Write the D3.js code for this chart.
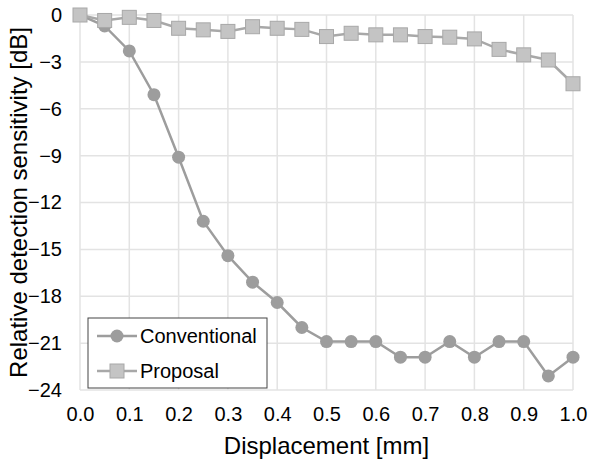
<!DOCTYPE html>
<html>
<head>
<meta charset="utf-8">
<script src="https://cdn.jsdelivr.net/npm/d3@7"></script>
<style>
  body { margin: 0; background: #fff; }
  text { font-family: "Liberation Sans", Arial, sans-serif; fill: #000; }
</style>
</head>
<body>
<div id="chart"></div>
<script>
const displacement = [0.0, 0.05, 0.1, 0.15, 0.2, 0.25, 0.3, 0.35, 0.4, 0.45, 0.5,
                      0.55, 0.6, 0.65, 0.7, 0.75, 0.8, 0.85, 0.9, 0.95, 1.0];
const conventional = [0, -0.7, -2.3, -5.1, -9.1, -13.2, -15.4, -17.1, -18.4, -20.0, -20.9,
                      -20.9, -20.9, -21.9, -21.9, -20.9, -21.9, -20.9, -20.9, -23.1, -21.9];
const proposal = [0, -0.35, -0.15, -0.35, -0.85, -0.95, -1.05, -0.75, -0.85, -0.92, -1.38,
                  -1.17, -1.27, -1.27, -1.38, -1.42, -1.53, -2.2, -2.55, -2.88, -4.4];
const xTicks = [0, 0.1, 0.2, 0.3, 0.4, 0.5, 0.6, 0.7, 0.8, 0.9, 1.0];
const yTicks = [0, -3, -6, -9, -12, -15, -18, -21, -24];

const width = 590;
const height = 461;
const marginTop = 15;
const marginRight = 17;
const marginBottom = 71;
const marginLeft = 80;

const x = d3.scaleLinear([0, 1], [marginLeft, width - marginRight]);
const y = d3.scaleLinear([-24, 0], [height - marginBottom, marginTop]);

const svg = d3.select("#chart").append("svg")
    .attr("width", width)
    .attr("height", height)
    .attr("viewBox", [0, 0, width, height]);

// gridlines
svg.append("g")
    .attr("stroke", "#e3e3e3")
    .attr("stroke-width", 1.5)
    .call(g => g.selectAll("line.v").data(xTicks).join("line")
        .attr("x1", d => x(d)).attr("x2", d => x(d))
        .attr("y1", y(0)).attr("y2", y(-24)))
    .call(g => g.selectAll("line.h").data(yTicks).join("line")
        .attr("class", "h")
        .attr("y1", d => y(d)).attr("y2", d => y(d))
        .attr("x1", x(0)).attr("x2", x(1)));

// axes
const xAxis = svg.append("g")
    .attr("transform", `translate(0,${y(-24)})`)
    .call(d3.axisBottom(x).tickValues(xTicks).tickFormat(d3.format(".1f")).tickSize(0).tickPadding(17));
xAxis.select(".domain").remove();
xAxis.selectAll("text").attr("font-size", 20).attr("font-family", null);

const yAxis = svg.append("g")
    .attr("transform", `translate(${x(0)},0)`)
    .call(d3.axisLeft(y).tickValues(yTicks).tickFormat(d3.format("d")).tickSize(0).tickPadding(18));
yAxis.select(".domain").remove();
yAxis.selectAll("text").attr("font-size", 20).attr("font-family", null);

// axis titles
svg.append("text")
    .attr("x", (x(0) + x(1)) / 2)
    .attr("y", 454)
    .attr("text-anchor", "middle")
    .attr("font-size", 24)
    .text("Displacement [mm]");

svg.append("text")
    .attr("transform", `translate(27,${(y(0) + y(-24)) / 2}) rotate(-90)`)
    .attr("text-anchor", "middle")
    .attr("font-size", 24)
    .text("Relative detection sensitivity [dB]");

const line = d3.line()
    .x((d, i) => x(displacement[i]))
    .y(d => y(d));

// conventional
svg.append("path")
    .attr("fill", "none")
    .attr("stroke", "#9d9d9d")
    .attr("stroke-width", 2.5)
    .attr("d", line(conventional));

svg.append("g")
    .selectAll("circle").data(conventional).join("circle")
    .attr("cx", (d, i) => x(displacement[i]))
    .attr("cy", d => y(d))
    .attr("r", 6.5)
    .attr("fill", "#9d9d9d");

// proposal
const sq = 14;
svg.append("path")
    .attr("fill", "none")
    .attr("stroke", "#a8a8a8")
    .attr("stroke-width", 2.5)
    .attr("d", line(proposal));

svg.append("g")
    .selectAll("rect").data(proposal).join("rect")
    .attr("x", (d, i) => x(displacement[i]) - sq / 2)
    .attr("y", d => y(d) - sq / 2)
    .attr("width", sq)
    .attr("height", sq)
    .attr("fill", "#c4c4c4")
    .attr("stroke", "#a8a8a8")
    .attr("stroke-width", 1);

// legend
const legend = svg.append("g").attr("transform", "translate(88,318)");
legend.append("rect")
    .attr("width", 179)
    .attr("height", 70)
    .attr("fill", "#fff")
    .attr("stroke", "#444")
    .attr("stroke-width", 1);

const items = [
    { name: "Conventional", shape: "circle", stroke: "#9d9d9d", fill: "#9d9d9d" },
    { name: "Proposal", shape: "rect", stroke: "#a8a8a8", fill: "#c4c4c4" }
];
items.forEach((item, i) => {
    const cy = 18 + i * 35;
    const g = legend.append("g").attr("transform", `translate(0,${cy})`);
    g.append("line")
        .attr("x1", 9).attr("x2", 49)
        .attr("stroke", item.stroke)
        .attr("stroke-width", 2.5);
    if (item.shape === "circle") {
        g.append("circle").attr("cx", 29).attr("r", 6.5).attr("fill", item.fill);
    } else {
        g.append("rect").attr("x", 29 - sq / 2).attr("y", -sq / 2)
            .attr("width", sq).attr("height", sq)
            .attr("fill", item.fill).attr("stroke", item.stroke);
    }
    g.append("text")
        .attr("x", 52)
        .attr("dy", "0.35em")
        .attr("font-size", 20)
        .text(item.name);
});
</script>
</body>
</html>
